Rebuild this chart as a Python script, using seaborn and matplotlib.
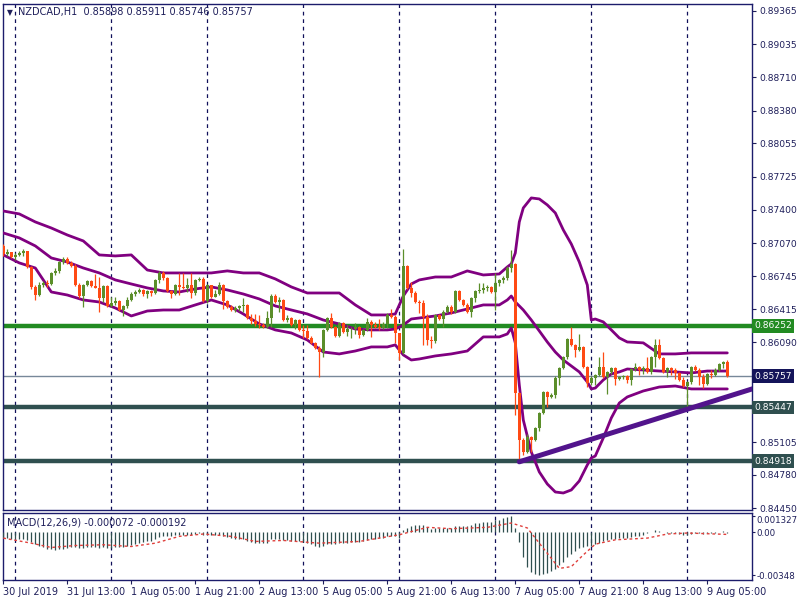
import numpy as np
import matplotlib
matplotlib.use('Agg')
import matplotlib.pyplot as plt
import matplotlib.transforms as mtransforms
import seaborn as sns

# ---- price data (H1 candles, bar index 0 = 30 Jul 21:00) ----
first_open = 0.87042
closes = [
    0.86963, 0.86978, 0.86933, 0.86953, 0.86973, 0.86988, 0.86834, 0.86637, 0.86558, 0.86657,
    0.86677, 0.86662, 0.86775, 0.86795, 0.86884, 0.86914, 0.86874, 0.86844, 0.86657, 0.86548,
    0.86657, 0.86697, 0.86647, 0.86632, 0.86528, 0.86647, 0.86449, 0.86479, 0.86499, 0.86410,
    0.86449, 0.86509, 0.86568, 0.86588, 0.86608, 0.86568, 0.86598, 0.86578, 0.86707, 0.86775,
    0.86726, 0.86593, 0.86568, 0.86657, 0.86642, 0.86627, 0.86657, 0.86578, 0.86707, 0.86721,
    0.86494, 0.86657, 0.86543, 0.86568, 0.86657, 0.86494, 0.86444, 0.86410, 0.86434, 0.86449,
    0.86464, 0.86330, 0.86301, 0.86271, 0.86261, 0.86242, 0.86330, 0.86548, 0.86489, 0.86509,
    0.86311, 0.86330, 0.86261, 0.86311, 0.86213, 0.86203, 0.86134, 0.86084, 0.86035, 0.85995,
    0.86213, 0.86330, 0.86242, 0.86154, 0.86281, 0.86193, 0.86222, 0.86227, 0.86242, 0.86163,
    0.86213, 0.86291, 0.86261, 0.86242, 0.86232, 0.86271, 0.86360, 0.86340, 0.86183, 0.85985,
    0.86844, 0.86627, 0.86578, 0.86489, 0.86479, 0.86340, 0.86114, 0.86104, 0.86360, 0.86321,
    0.86390, 0.86440, 0.86390, 0.86598, 0.86509, 0.86459, 0.86390, 0.86528, 0.86598, 0.86608,
    0.86627, 0.86637, 0.86588, 0.86677, 0.86707, 0.86726, 0.86824, 0.86864, 0.85590, 0.85126,
    0.85007, 0.85156, 0.85126, 0.85245, 0.85392, 0.85600, 0.85551, 0.85570, 0.85739, 0.85837,
    0.85946, 0.86124, 0.86064, 0.86015, 0.86045, 0.85847, 0.85689, 0.85739, 0.85768, 0.85847,
    0.85748, 0.85797, 0.85837, 0.85729, 0.85748, 0.85758, 0.85719, 0.85827, 0.85847, 0.85817,
    0.85837, 0.85797, 0.85946, 0.86064, 0.85936, 0.85797, 0.85837, 0.85817, 0.85787, 0.85719,
    0.85659, 0.85699, 0.85847, 0.85817, 0.85748, 0.85679, 0.85778, 0.85768, 0.85817, 0.85877,
    0.85898, 0.85757,
]
highs = [
    0.87062, 0.87013, 0.86983, 0.86973, 0.86993, 0.87008, 0.86993, 0.86844, 0.86657, 0.86687,
    0.86697, 0.86707, 0.86785, 0.86824, 0.86894, 0.86933, 0.86938, 0.86894, 0.86864, 0.86677,
    0.86667, 0.86707, 0.86707, 0.86765, 0.86735, 0.86657, 0.86657, 0.86538, 0.86538, 0.86509,
    0.86459, 0.86538, 0.86588, 0.86608, 0.86627, 0.86618, 0.86608, 0.86608, 0.86717, 0.86795,
    0.86795, 0.86735, 0.86608, 0.86667, 0.86775, 0.86775, 0.86726, 0.86775, 0.86717, 0.86735,
    0.86735, 0.86667, 0.86657, 0.86608, 0.86687, 0.86667, 0.86509, 0.86459, 0.86449, 0.86459,
    0.86528, 0.86469, 0.86370, 0.86370, 0.86360, 0.86281, 0.86400, 0.86568, 0.86568, 0.86538,
    0.86519, 0.86360, 0.86340, 0.86321, 0.86321, 0.86261, 0.86261, 0.86154, 0.86094, 0.86055,
    0.86222, 0.86340, 0.86380, 0.86252, 0.86291, 0.86291, 0.86261, 0.86242, 0.86281, 0.86252,
    0.86222, 0.86330, 0.86311, 0.86291, 0.86321, 0.86291, 0.86380, 0.86420, 0.86360, 0.86144,
    0.87013, 0.86854, 0.86687, 0.86598, 0.86509, 0.86509, 0.86370, 0.86154, 0.86370, 0.86370,
    0.86410, 0.86459, 0.86459, 0.86608, 0.86608, 0.86519, 0.86479, 0.86538, 0.86608, 0.86677,
    0.86677, 0.86657, 0.86647, 0.86775, 0.86717, 0.86746, 0.86844, 0.87003, 0.86874, 0.85600,
    0.85146, 0.85185, 0.85166, 0.85255, 0.85402, 0.85610, 0.85610, 0.85590, 0.85758, 0.85847,
    0.85956, 0.86134, 0.86242, 0.86074, 0.86173, 0.86055, 0.85857, 0.85758, 0.85778, 0.85946,
    0.85995, 0.85807, 0.85847, 0.85847, 0.85758, 0.85768, 0.85768, 0.85837, 0.85887, 0.85857,
    0.85857, 0.85946, 0.85956, 0.86124, 0.86124, 0.85946, 0.85847, 0.85847, 0.85837, 0.85797,
    0.85748, 0.85709, 0.85857, 0.85867, 0.85837, 0.85778, 0.85787, 0.85817, 0.85837, 0.85887,
    0.85906, 0.85911,
]
lows = [
    0.86943, 0.86943, 0.86923, 0.86904, 0.86943, 0.86943, 0.86824, 0.86618, 0.86509, 0.86548,
    0.86637, 0.86637, 0.86657, 0.86755, 0.86775, 0.86864, 0.86864, 0.86834, 0.86647, 0.86528,
    0.86440, 0.86647, 0.86637, 0.86627, 0.86390, 0.86489, 0.86440, 0.86440, 0.86459, 0.86400,
    0.86350, 0.86430, 0.86499, 0.86548, 0.86578, 0.86548, 0.86528, 0.86548, 0.86568, 0.86677,
    0.86707, 0.86588, 0.86528, 0.86558, 0.86558, 0.86618, 0.86588, 0.86528, 0.86558, 0.86697,
    0.86489, 0.86479, 0.86528, 0.86538, 0.86558, 0.86420, 0.86430, 0.86400, 0.86390, 0.86400,
    0.86390, 0.86321, 0.86271, 0.86252, 0.86232, 0.86232, 0.86232, 0.86242, 0.86479, 0.86390,
    0.86301, 0.86291, 0.86252, 0.86222, 0.86203, 0.86134, 0.86124, 0.86074, 0.86025, 0.85748,
    0.85946, 0.86203, 0.86232, 0.86144, 0.86144, 0.86183, 0.86154, 0.86134, 0.86173, 0.86134,
    0.86154, 0.86203, 0.86144, 0.86232, 0.86213, 0.86222, 0.86232, 0.86330, 0.86084, 0.85916,
    0.85975, 0.86618, 0.86538, 0.86479, 0.86380, 0.86064, 0.86064, 0.86035, 0.86084, 0.86311,
    0.86242, 0.86380, 0.86370, 0.86380, 0.86499, 0.86449, 0.86380, 0.86340, 0.86489, 0.86578,
    0.86578, 0.86598, 0.86578, 0.86410, 0.86647, 0.86677, 0.86707, 0.86785, 0.85373, 0.84910,
    0.84978, 0.84997, 0.85007, 0.85116, 0.85215, 0.85382, 0.85452, 0.85541, 0.85541, 0.85669,
    0.85827, 0.85926, 0.86055, 0.85946, 0.86005, 0.85837, 0.85649, 0.85669, 0.85669, 0.85758,
    0.85739, 0.85580, 0.85778, 0.85669, 0.85719, 0.85729, 0.85689, 0.85669, 0.85807, 0.85768,
    0.85778, 0.85787, 0.85778, 0.85847, 0.85926, 0.85787, 0.85748, 0.85768, 0.85729, 0.85709,
    0.85649, 0.85422, 0.85679, 0.85807, 0.85669, 0.85639, 0.85669, 0.85739, 0.85758, 0.85807,
    0.85837, 0.85746,
]

# ---- Bollinger bands, read at sample bars ----
band_bars = [0, 4, 8, 12, 16, 20, 24, 28, 32, 36, 40, 44, 48, 52, 56, 60, 64, 68, 72, 76,
             80, 84, 88, 92, 96, 98, 100, 102, 104, 108, 112, 116, 120, 124, 126, 127, 128, 129, 130, 132,
             134, 136, 138, 140, 142, 144, 146, 147, 148, 150, 152, 154, 156, 160, 164, 168, 172, 176, 181]
band_upper = [0.87388, 0.87359, 0.87280, 0.87220, 0.87151, 0.87092, 0.86954, 0.86944, 0.86954, 0.86805,
              0.86776, 0.86776, 0.86776, 0.86776, 0.86796, 0.86776, 0.86776, 0.86717, 0.86638, 0.86578,
              0.86578, 0.86578, 0.86460, 0.86361, 0.86361, 0.86371, 0.86548, 0.86667, 0.86707, 0.86736,
              0.86736, 0.86796, 0.86756, 0.86766, 0.86835, 0.86865, 0.86973, 0.87280, 0.87418, 0.87517,
              0.87507, 0.87448, 0.87369, 0.87201, 0.87062, 0.86884, 0.86657, 0.86311, 0.86321, 0.86292,
              0.86213, 0.86134, 0.86094, 0.86085, 0.85976, 0.85976, 0.85986, 0.85986, 0.85986]
band_mid = [0.87171, 0.87122, 0.87043, 0.86924, 0.86884, 0.86825, 0.86776, 0.86707, 0.86667, 0.86628,
            0.86598, 0.86588, 0.86618, 0.86638, 0.86608, 0.86568, 0.86519, 0.86450, 0.86410, 0.86371,
            0.86311, 0.86272, 0.86222, 0.86213, 0.86213, 0.86222, 0.86262, 0.86321, 0.86331, 0.86351,
            0.86381, 0.86420, 0.86460, 0.86460, 0.86509, 0.86548, 0.86489, 0.86450, 0.86410, 0.86311,
            0.86203, 0.86094, 0.85995, 0.85916, 0.85857, 0.85798, 0.85699, 0.85630, 0.85639, 0.85719,
            0.85778, 0.85798, 0.85827, 0.85817, 0.85807, 0.85798, 0.85788, 0.85807, 0.85807]
band_lower = [0.86954, 0.86875, 0.86825, 0.86588, 0.86558, 0.86509, 0.86489, 0.86430, 0.86351, 0.86400,
              0.86410, 0.86410, 0.86460, 0.86509, 0.86460, 0.86371, 0.86272, 0.86213, 0.86183, 0.86114,
              0.85995, 0.85976, 0.86005, 0.86045, 0.86045, 0.86065, 0.85966, 0.85916, 0.85926, 0.85956,
              0.85976, 0.86005, 0.86144, 0.86144, 0.86173, 0.86232, 0.86085, 0.85669, 0.85323, 0.85007,
              0.84810, 0.84691, 0.84612, 0.84602, 0.84632, 0.84721, 0.84879, 0.84948, 0.84968, 0.85146,
              0.85343, 0.85491, 0.85551, 0.85610, 0.85649, 0.85659, 0.85630, 0.85630, 0.85630]

# ---- drawn objects ----
level_prices = [0.86252, 0.85447, 0.84918]
level_colors = ['#228B22', '#2F4F4F', '#2F4F4F']
current_price = 0.85757
trend_bars = [129, 188]
trend_prices = [0.84910, 0.85640]

# ---- MACD(12,26,9) ----
macd_hist = [
    -0.00045, -0.00050, -0.00055, -0.00055, -0.00060, -0.00060, -0.00065,
    -0.00080, -0.00100, -0.00115, -0.00125, -0.00135, -0.00140,
    -0.00145, -0.00140, -0.00135, -0.00130,
    -0.00125, -0.00125, -0.00130, -0.00130, -0.00125, -0.00125, -0.00125, -0.00130,
    -0.00125, -0.00130, -0.00130, -0.00125, -0.00120, -0.00120, -0.00115, -0.00105, -0.00095,
    -0.00085, -0.00080, -0.00075, -0.00070, -0.00055, -0.00040, -0.00035, -0.00035, -0.00030,
    -0.00025, -0.00020, -0.00020, -0.00020, -0.00020, -0.00015, -0.00010, -0.00020, -0.00015,
    -0.00020, -0.00025, -0.00020, -0.00030, -0.00040, -0.00050, -0.00055,
    -0.00060, -0.00060, -0.00070, -0.00080, -0.00085, -0.00090, -0.00090, -0.00085,
    -0.00060, -0.00055, -0.00055, -0.00065, -0.00065, -0.00070, -0.00070, -0.00075, -0.00080, -0.00090,
    -0.00100, -0.00110, -0.00120, -0.00110, -0.00095,
    -0.00095, -0.00095, -0.00090, -0.00090, -0.00085, -0.00080, -0.00080, -0.00080,
    -0.00075, -0.00065, -0.00060, -0.00055, -0.00050, -0.00045, -0.00035, -0.00030, -0.00035, -0.00050,
    0.00015, 0.00030, 0.00045, 0.00055, 0.00060, 0.00055, 0.00040, 0.00025, 0.00030,
    0.00030, 0.00030, 0.00035, 0.00030, 0.00045, 0.00050, 0.00050, 0.00045, 0.00060,
    0.00070, 0.00075, 0.00080, 0.00085, 0.00085, 0.00095, 0.00100, 0.00110, 0.00120, 0.00130,
    0.00030, -0.00080, -0.00200, -0.00280, -0.00320, -0.00340, -0.00348, -0.00340,
    -0.00330, -0.00315, -0.00295, -0.00270, -0.00240, -0.00205, -0.00175, -0.00150, -0.00130, -0.00120, -0.00115, -0.00110,
    -0.00095, -0.00085, -0.00075, -0.00065, -0.00060, -0.00055, -0.00050, -0.00045, -0.00045, -0.00040, -0.00035, -0.00030, -0.00020,
    -0.00010, 0.00000, 0.00015, 0.00010, 0.00000, -0.00005, -0.00005, -0.00010, -0.00015, -0.00020, -0.00025,
    -0.00015, -0.00005, -0.00010, -0.00015, -0.00010, -0.00010, -0.00005, 0.00000, 0.00005, -0.000072,
]
signal_bars = [0, 7, 12, 18, 25, 32, 38, 44, 50, 57, 63, 70, 79, 89, 99, 106, 112, 121, 127, 131,
               135, 139, 142, 145, 148, 153, 161, 166, 171, 181]
signal_vals = [-0.00049, -0.00090, -0.00125, -0.00109, -0.00103, -0.00117, -0.00090, -0.00035, -0.00016, -0.00035,
               -0.00076, -0.00068, -0.00090, -0.00076, -0.00022, 0.00038, 0.00027, 0.00038, 0.00073, 0.00033,
               -0.00131, -0.00294, -0.00280, -0.00185, -0.00098, -0.00063, -0.00049, -0.00016, -0.00008, -0.000192]

# ---- axis labels ----
price_ticks = [0.89365, 0.89035, 0.88710, 0.88380, 0.88055, 0.87725, 0.87400, 0.87070,
               0.86745, 0.86415, 0.86090, 0.85105, 0.84780, 0.84450]
day_start_bars = [3, 27, 51, 75, 99, 123, 147, 171]
date_bars = [0, 16, 32, 48, 64, 80, 96, 112, 128, 144, 160, 176]
date_labels = ['30 Jul 2019', '31 Jul 13:00', '1 Aug 05:00', '1 Aug 21:00', '2 Aug 13:00',
               '5 Aug 05:00', '5 Aug 21:00', '6 Aug 13:00', '7 Aug 05:00', '7 Aug 21:00',
               '8 Aug 13:00', '9 Aug 05:00']

assert len(closes) == len(highs) == len(lows) == len(macd_hist) == 182
assert len(band_bars) == len(band_upper) == len(band_mid) == len(band_lower)

sns.set_theme(style='white')
plt.rcParams['font.family'] = ['DejaVu Sans']

NAVY = '#1C1C6B'
TXT = '#1E1E5A'
BULL = '#5B8E2A'
BEAR = '#FF4A14'
XLIM = (-0.075, 187.175)

fig = plt.figure(figsize=(8, 6), dpi=100)
fig.patch.set_facecolor('white')
ax = fig.add_axes([3 / 800, 1 - 510 / 600, 749 / 800, 506 / 600])
ax2 = fig.add_axes([3 / 800, 1 - 580 / 600, 749 / 800, 67 / 600])

# ---- main chart ----
bars = np.arange(len(closes))
opens = np.array([first_open] + closes[:-1])
c = np.array(closes)
up = c >= opens
colors = np.where(up, BULL, BEAR)

for d in day_start_bars:
    for a in (ax, ax2):
        a.axvline(d, color='#10105A', lw=0.9, ls=(0, (3, 3)), zorder=1)

ax.axhline(current_price, color='#778899', lw=1, zorder=2)
for p, col in zip(level_prices, level_colors):
    ax.axhline(p, color=col, lw=3.2, zorder=2)

for data in (band_upper, band_mid, band_lower):
    sns.lineplot(x=band_bars, y=data, ax=ax, color='#800080', linewidth=2,
                 sort=False, legend=False, zorder=3)

ax.vlines(bars, lows, highs, colors=colors, lw=0.9, zorder=4)
body = np.abs(c - opens)
body = np.maximum(body, 0.000012)
ax.bar(bars, body, bottom=np.minimum(c, opens), width=0.78, color=colors,
       linewidth=0, zorder=5)

sns.lineplot(x=trend_bars, y=trend_prices, ax=ax, color='#52148C', linewidth=3.6,
             sort=False, legend=False, zorder=6)

ax.set_xlim(*XLIM)
ax.set_ylim(0.84434, 0.89433)
ax.set_xticks([])
ax.yaxis.tick_right()
ax.set_yticks(price_ticks)
ax.set_yticklabels([f'{t:.5f}' for t in price_ticks])
ax.tick_params(axis='y', colors=TXT, labelsize=6.6, length=3, width=0.8, pad=2,
               labelcolor=TXT, right=True)
ax.set_xlabel('')
ax.set_ylabel('')
for s in ax.spines.values():
    s.set_color(NAVY)
    s.set_linewidth(1)

# boxed price labels on the right scale
trans = mtransforms.blended_transform_factory(ax.transAxes, ax.transData)
box_labels = [(0.86252, '#228B22'), (current_price, '#14145A'),
              (0.85447, '#2F4F4F'), (0.84918, '#2F4F4F')]
for p, col in box_labels:
    ax.text(1.003, p, f'{p:.5f}', transform=trans, ha='left', va='center',
            fontsize=6.6, color='white', zorder=10, clip_on=False,
            bbox=dict(boxstyle='square,pad=0.25', fc=col, ec='none'))

ax.text(0.005, 0.9915, '\u25bc', transform=ax.transAxes, ha='left', va='top',
        fontsize=5.5, color=TXT)
ax.text(0.02, 0.994, 'NZDCAD,H1  0.85898 0.85911 0.85746 0.85757',
        transform=ax.transAxes, ha='left', va='top', fontsize=7, color=TXT)

# ---- MACD panel ----
ax2.vlines(bars, 0, macd_hist, colors='#2F4F4F', lw=0.9, zorder=3)
sns.lineplot(x=signal_bars, y=signal_vals, ax=ax2, color='#E0403C', linewidth=1,
             linestyle=(0, (2, 2)), sort=False, legend=False, zorder=4)
ax2.set_xlim(*XLIM)
ax2.set_ylim(-0.00388, 0.00154)
ax2.yaxis.tick_right()
ax2.set_yticks([0.001327, 0.0, -0.00348])
ax2.set_yticklabels(['0.001327', '0.00', '-0.00348'])
ax2.tick_params(axis='y', colors=TXT, labelsize=6.2, length=2, width=0.8, pad=1.5,
                labelcolor=TXT, right=True)
ax2.get_yticklabels()[0].set_va('top')
ax2.set_xticks(date_bars)
ax2.set_xticklabels(date_labels, ha='left')
ax2.tick_params(axis='x', colors=TXT, labelsize=7, length=3, width=0.8, pad=2,
                labelcolor=TXT, bottom=True)
ax2.set_xlabel('')
ax2.set_ylabel('')
for s in ax2.spines.values():
    s.set_color(NAVY)
    s.set_linewidth(1)
ax2.text(0.006, 0.93, 'MACD(12,26,9) -0.000072 -0.000192', transform=ax2.transAxes,
         ha='left', va='top', fontsize=7, color=TXT)

fig.savefig('out.png', dpi=100, facecolor='white')
